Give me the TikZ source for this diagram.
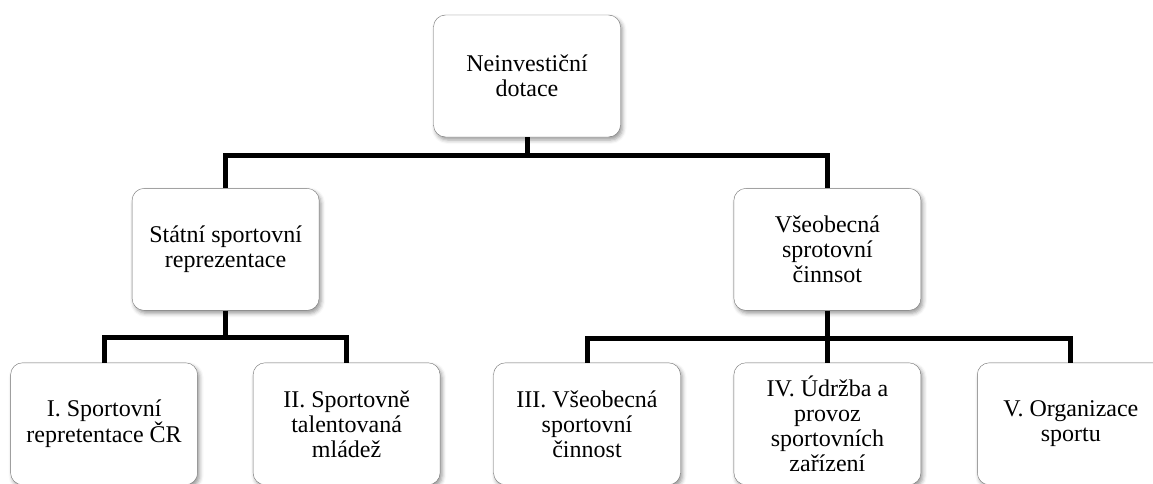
\documentclass[tikz,border=0pt]{standalone}
\usepackage{fontspec}
\setmainfont{Liberation Serif}
\usetikzlibrary{shapes, shadows.blur, calc, positioning}
\tikzstyle{line} = [draw, line width=5pt]
\tikzstyle{block} = [rectangle, draw=black!55, fill=white, text centered, align=center, rounded corners=12pt, minimum width=187pt, minimum height=122pt, inner sep=0pt, font=\fontsize{24}{25}\selectfont, blur shadow={shadow xshift=2pt, shadow yshift=-3pt, shadow blur radius=4pt, shadow opacity=40}]

\begin{document}
\begin{tikzpicture}[node distance=51pt, on grid=false]
\useasboundingbox (0,0) rectangle (1153pt,-484pt);
\node [block] (neinvesticni) at (527pt,-76pt) {Neinvestiční\\dotace};
\node [block, below left=51pt and 114pt of neinvesticni] (statni) {Státní sportovní\\reprezentace};
\node [block, below right=51pt and 113pt of neinvesticni] (vseobecna) {Všeobecná\\sprotovní\\činnsot};
\node [block, below=52pt of statni, xshift=-121.5pt] (reprezentace) {I. Sportovní\\repretentace ČR};
\node [block, below=52pt of statni, xshift=121pt] (mladez) {II. Sportovně\\talentovaná\\mládež};
\node [block, below=52pt of vseobecna] (udrzba) {IV. Údržba a\\provoz\\sportovních\\zařízení};
\node [block, left=53pt of udrzba] (cinnost) {III. Všeobecná\\sportovní\\činnost};
\node [block, right=56pt of udrzba] (organizace) {V. Organizace\\sportu};
\coordinate [below=18pt of neinvesticni] (split);
\coordinate [below=27pt of statni] (splitleft);
\coordinate [below=28pt of vseobecna] (splitright);
\path [line] (neinvesticni) -- (split);
\path [line] (statni.north) |- (split) -| (vseobecna.north);
\path [line] (statni) -- (splitleft);
\path [line] (reprezentace.north) |- (splitleft) -| (mladez.north);
\path [line] (vseobecna) -- (splitright);
\path [line] (cinnost.north) |- (splitright) -| (organizace.north);
\path [line] (splitright) -- (udrzba);
\end{tikzpicture}
\end{document}
